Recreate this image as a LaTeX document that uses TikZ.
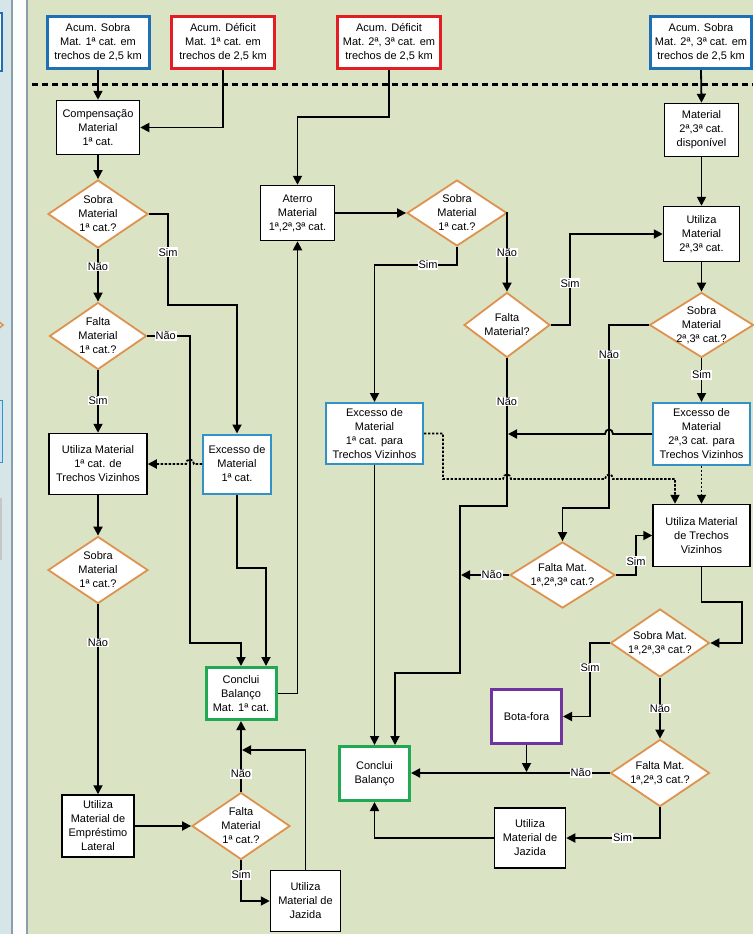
\documentclass[tikz,border=0pt]{standalone}
\usepackage{fontspec}
\setmainfont{Liberation Sans}
\usetikzlibrary{arrows.meta,shapes.geometric,calc}
\definecolor{bg}{RGB}{218,228,196}
\definecolor{leftbg}{RGB}{214,229,231}
\definecolor{sepgray}{RGB}{140,158,172}
\definecolor{bblue}{RGB}{30,112,180}
\definecolor{lblue}{RGB}{50,145,198}
\definecolor{bred}{RGB}{226,30,36}
\definecolor{bgreen}{RGB}{32,168,82}
\definecolor{bpurple}{RGB}{112,52,160}
\definecolor{dorange}{RGB}{222,146,78}
\begin{document}
\begin{tikzpicture}[x=1pt,y=-1pt,
  every node/.style={font=\fontsize{11}{14}\selectfont},
  sz/.style 2 args={minimum width=#1pt, minimum height=#2pt},
  box/.style={draw=black, line width=1.5pt, fill=white, align=center, inner sep=0pt},
  topblue/.style={box, draw=bblue, line width=3pt},
  topred/.style={box, draw=bred, line width=3pt},
  excbox/.style={box, draw=lblue, line width=2pt},
  endbox/.style={box, draw=bgreen, line width=3pt},
  purbox/.style={box, draw=bpurple, line width=3pt},
  dia/.style={shape=diamond, draw=dorange, line width=1.8pt, fill=white, inner sep=0pt},
  txt/.style={align=center, inner sep=0pt},
  con/.style={line width=1.8pt, draw=black},
  arr/.style={con, -{Triangle[length=9pt,width=9pt]}},
  dotarr/.style={arr, dash pattern=on 2.4pt off 1.6pt},
  lbl/.style={fill=white, inner sep=0.7pt}
]
\useasboundingbox (0,0) rectangle (753,934);
% background
\fill[bg] (0,0) rectangle (753,934);
\fill[leftbg] (0,0) rectangle (12,934);
\fill[sepgray] (11,0) rectangle (13,934);
\fill[white!94!leftbg] (13,0) rectangle (26,934);
\fill[sepgray] (26,0) rectangle (28,934);
% cut-off fragments at the left edge
\draw[bblue, line width=2pt, fill=white] (-10,13) rectangle (1.5,71);
\draw[dorange, line width=1.5pt] (-3,320) -- (3,325) -- (-3,330);
\draw[lblue, line width=1pt, fill=lblue!25] (-10,400) rectangle (2,462);
\fill[gray!45] (-10,498) rectangle (2,560);
% separator
\draw[line width=3pt, dash pattern=on 6pt off 4pt] (32,84) -- (753,84);

% top boxes
\node[topblue, sz={102}{52}] (a1) at (98,42.5) {Acum. Sobra\\Mat. 1ª cat. em\\trechos de 2,5 km};
\node[topred, sz={103}{52}] (a2) at (223,42.5) {Acum. Déficit\\Mat. 1ª cat. em\\trechos de 2,5 km};
\node[topred, sz={103}{52}] (a3) at (389,42.5) {Acum. Déficit\\Mat. 2ª, 3ª cat. em\\trechos de 2,5 km};
\node[topblue, sz={101}{52}] (a4) at (701,42.5) {Acum. Sobra\\Mat. 2ª, 3ª cat. em\\trechos de 2,5 km};

% boxes
\node[box, sz={83}{54}] (comp) at (98,127.5) {Compensação\\Material\\1ª cat.};
\node[box, sz={74}{55}] (aterro) at (297.5,213) {Aterro\\Material\\1ª,2ª,3ª cat.};
\node[box, sz={74}{53}] (disp) at (701.5,130) {Material\\2ª,3ª cat.\\disponível};
\node[box, sz={76}{55}] (ut23) at (701.5,234) {Utiliza\\Material\\2ª,3ª cat.};
\node[box, sz={98}{61}] (umtv) at (98,464) {Utiliza Material\\1ª cat. de\\Trechos Vizinhos};
\node[excbox, sz={68}{59}] (exc1) at (237,464) {Excesso de\\Material\\1ª cat.};
\node[excbox, sz={97}{61}] (exc1t) at (374.5,433.5) {Excesso de\\Material\\1ª cat. para\\Trechos Vizinhos};
\node[excbox, sz={97}{62}] (exc23) at (701.5,434) {Excesso de\\Material\\2ª,3 cat. para\\Trechos Vizinhos};
\node[box, sz={97}{62}] (umtrv) at (701.5,535.5) {Utiliza Material\\de Trechos\\Vizinhos};
\node[endbox, sz={70}{52}] (cb1) at (241,693.5) {Conclui\\Balanço\\Mat. 1ª cat.};
\node[endbox, sz={70}{54}] (cb) at (374.5,773.5) {Conclui\\Balanço};
\node[purbox, sz={70}{54}] (bota) at (526.5,716.5) {Bota-fora};
\node[box, sz={72}{62}] (emp) at (98,826) {Utiliza\\Material de\\Empréstimo\\Lateral};
\node[box, sz={70}{61}] (jaz1) at (305.5,901) {Utiliza\\Material de\\Jazida};
\node[box, sz={71}{60}] (jaz2) at (530,838) {Utiliza\\Material de\\Jazida};

% decisions
\node[dia, sz={100}{68}] (d1) at (98,214) {};
\node[txt] at (d1) {Sobra\\Material\\1ª cat.?};
\node[dia, sz={97}{67}] (d2) at (98,336) {};
\node[txt] at (d2) {Falta\\Material\\1ª cat.?};
\node[dia, sz={100}{67}] (d3) at (98,570) {};
\node[txt] at (d3) {Sobra\\Material\\1ª cat.?};
\node[dia, sz={98}{67}] (d4) at (241,826) {};
\node[txt] at (d4) {Falta\\Material\\1ª cat.?};
\node[dia, sz={100}{66}] (d5) at (457,213) {};
\node[txt] at (d5) {Sobra\\Material\\1ª cat.?};
\node[dia, sz={86}{65}] (d6) at (507,325) {};
\node[txt] at (d6) {Falta\\Material?};
\node[dia, sz={104}{65}] (d8) at (701.5,325) {};
\node[txt] at (d8) {Sobra\\Material\\2ª,3ª cat.?};
\node[dia, sz={105}{66}] (d7) at (562.5,575) {};
\node[txt] at (d7) {Falta Mat.\\1ª,2ª,3ª cat.?};
\node[dia, sz={99}{68}] (d9) at (660,643) {};
\node[txt] at (d9) {Sobra Mat.\\1ª,2ª,3ª cat.?};
\node[dia, sz={99}{67}] (d10) at (660,773) {};
\node[txt] at (d10) {Falta Mat.\\1ª,2ª,3 cat.?};

% connectors, left part
\draw[arr] (a1.south) -- (comp.north);
\draw[arr] (a2.south) |- (comp.east);
\draw[arr] (comp.south) -- (d1.north);
\draw[arr] (d1.east) -- (168,214) -- node[lbl,pos=0.42]{Sim} (168,305) -| (exc1.north);
\draw[arr] (d1.south) -- node[lbl,pos=0.33]{Não} (d2.north);
\draw[arr] (d2.east) -- node[lbl,pos=0.43]{Não} (190,336) -- (190,643) -| (cb1.north);
\draw[arr] (exc1.south) -- (237,568) -| ([xshift=25pt]cb1.north);
\draw[arr] (cb1.east) -| (aterro.south);
\draw[arr] (d2.south) -- node[lbl,pos=0.48]{Sim} (umtv.north);
\draw[dotarr] (exc1.west) -- (194,464) .. controls (194,458) and (186,458) .. (186,464) -- (umtv.east);
\draw[arr] (umtv.south) -- (d3.north);
\draw[arr] (d3.south) -- node[lbl,pos=0.2]{Não} (emp.north);
\draw[arr] (emp.east) -- (d4.west);
\draw[arr] (d4.north) -- node[lbl,pos=0.25]{Não} (cb1.south);
\draw[arr] (d4.south) -- node[lbl,pos=0.36]{Sim} (241,901) -- (jaz1.west);
\coordinate (j1end) at (242,750);
\draw[arr] (jaz1.north) |- (j1end);

% connectors, right part
\draw[arr] (a3.south) -- (389,117) -| (aterro.north);
\draw[arr] (aterro.east) -- (d5.west);
\draw[arr] (d5.south) -- (457,265) -- node[lbl,pos=0.35]{Sim} (374.5,265) -- (exc1t.north);
\draw[arr] (exc1t.south) -- (cb.north);
\draw[arr] (d5.east) -| node[lbl,pos=0.75]{Não} (d6.north);
\draw[arr] (d6.east) -- (570,325) -- node[lbl,pos=0.46]{Sim} (570,234) -- (ut23.west);
\draw[arr] (d6.south) -- node[lbl,pos=0.29]{Não} (507,506) -- (460,506) -- (460,673) -- (395,673) -- ([xshift=20.5pt]cb.north);
\draw[arr] (a4.south) -- (disp.north);
\draw[arr] (disp.south) -- (ut23.north);
\draw[arr] (ut23.south) -- (d8.north);
\draw[arr] (d8.west) -- (609,325) -- node[lbl,pos=0.16]{Não} (609,508) -| (d7.north);
\draw[arr] (d8.south) -- node[lbl,pos=0.38]{Sim} (exc23.north);
\coordinate (e23end) at (508,434);
\draw[arr] (exc23.west) -- (613,434) .. controls (613,428) and (605,428) .. (605,434) -- (e23end);
\draw[dotarr] (exc23.south) -- (umtrv.north);
\draw[dotarr] (exc1t.east) -- (443,433.5) -- (443,479) -- (503,479) .. controls (503,473) and (511,473) .. (511,479)
  -- (605,479) .. controls (605,473) and (613,473) .. (613,479) -- (675,479) -- ([xshift=-26.5pt]umtrv.north);
\coordinate (d7end) at (461,575);
\draw[arr] (d7.west) -- node[lbl,pos=0.36]{Não} (d7end);
\draw[arr] (d7.east) -- (636,575) -- node[lbl,pos=0.35]{Sim} (636,535.5) -- (umtrv.west);
\draw[arr] (umtrv.south) -- (701.5,602) -- (742,602) |- (d9.east);
\draw[arr] (d9.west) -- (590,643) -- node[lbl,pos=0.33]{Sim} (590,716.5) -- (bota.east);
\coordinate (botaend) at (526.5,772);
\draw[arr] (bota.south) -- (botaend);
\draw[arr] (d9.south) -- node[lbl,pos=0.5]{Não} (d10.north);
\draw[arr] (d10.west) -- node[lbl,pos=0.145]{Não} (d10.west -| cb.east);
\draw[arr] (d10.south) -- (660,838) -- node[lbl,pos=0.4]{Sim} (jaz2.east);
\draw[arr] (jaz2.west) -| (cb.south);
\end{tikzpicture}
\end{document}
